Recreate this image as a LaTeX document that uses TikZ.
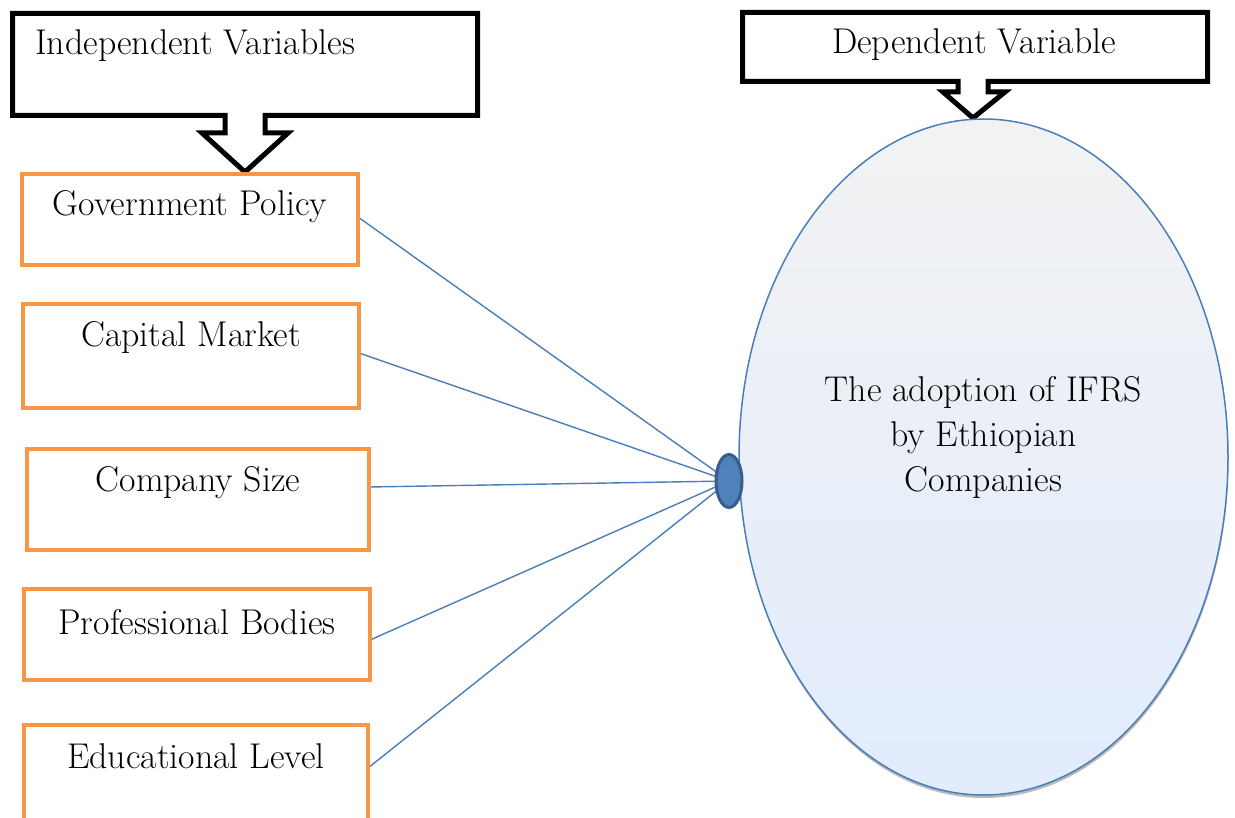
\documentclass[tikz,border=0pt]{standalone}
\usepackage{fontspec}
\usetikzlibrary{shapes.geometric,shadows,backgrounds}
\definecolor{orangeb}{HTML}{F79646}
\definecolor{blueline}{HTML}{4A7EBB}
\definecolor{bluefill}{HTML}{4F81BD}
\definecolor{bluedark}{HTML}{385D8A}
\definecolor{topgrey}{HTML}{F2F2F2}
\definecolor{botblue}{HTML}{E2ECFD}
\tikzset{
  lbl/.style={font=\fontsize{35.8}{45}\selectfont, inner sep=0pt, text=black},
  ivbox/.style={draw=orangeb, line width=4pt, fill=white},
  callout/.style={draw=black, line width=5pt, line join=miter, fill=white},
  link/.style={draw=blueline, line width=1.4pt},
}
\begin{document}
\begin{tikzpicture}[x=1pt,y=-1pt]
\useasboundingbox (0,0) rectangle (1235,818);
% callouts
\draw[callout] (12.5,13.5) -- (477.5,13.5) -- (477.5,115.5) -- (265,115.5) -- (265,133) -- (288,133) -- (245,172) -- (202,133) -- (225,133) -- (225,115.5) -- (12.5,115.5) -- cycle;
\node[lbl, anchor=base west] (iv) at (35,55) {Independent Variables};
\draw[callout] (742.5,12.5) -- (1207.5,12.5) -- (1207.5,81.5) -- (988,81.5) -- (988,92) -- (1005,92) -- (973,118) -- (943,92) -- (958,92) -- (958,81.5) -- (742.5,81.5) -- cycle;
\node[lbl] (dv) at (974,45) {Dependent Variable};
% big ellipse
\node[ellipse, draw=blueline, line width=1.5pt, top color=topgrey, bottom color=botblue,
  minimum width=489pt, minimum height=676pt, inner sep=0pt,
  drop shadow={shadow xshift=0.5pt, shadow yshift=-3pt, opacity=0.55, fill=gray}] (big) at (983.5,457) {};
\node[lbl, align=center] (dvt) at (983.5,437) {The adoption of IFRS\\by Ethiopian\\Companies};
% boxes
\draw[ivbox] (22,174) rectangle (358,265);
\node[lbl] (gp) at (190,207) {Government Policy};
\coordinate (gpr) at (358,217);
\draw[ivbox] (23,304) rectangle (359,408);
\node[lbl] (cm) at (191,337) {Capital Market};
\coordinate (cmr) at (359,353);
\draw[ivbox] (27,449) rectangle (369,550);
\node[lbl] (cs) at (198,483) {Company Size};
\coordinate (csr) at (369,487);
\draw[ivbox] (24,589) rectangle (370,680);
\node[lbl] (pb) at (197,622) {Professional Bodies};
\coordinate (pbr) at (370,640);
\draw[ivbox] (24,725) rectangle (368,830);
\node[lbl] (el) at (196,756) {Educational Level};
\coordinate (elr) at (368,768);
% hub
\node[ellipse, draw=bluedark, fill=bluefill, line width=3pt, minimum width=26pt, minimum height=53pt, inner sep=0pt] (hub) at (729,481) {};
\begin{scope}[on background layer]
\draw[link] (gpr) -- (hub.center);
\draw[link] (cmr) -- (hub.center);
\draw[link] (csr) -- (hub.center);
\draw[link] (pbr) -- (hub.center);
\draw[link] (elr) -- (hub.center);
\end{scope}
\end{tikzpicture}
\end{document}
